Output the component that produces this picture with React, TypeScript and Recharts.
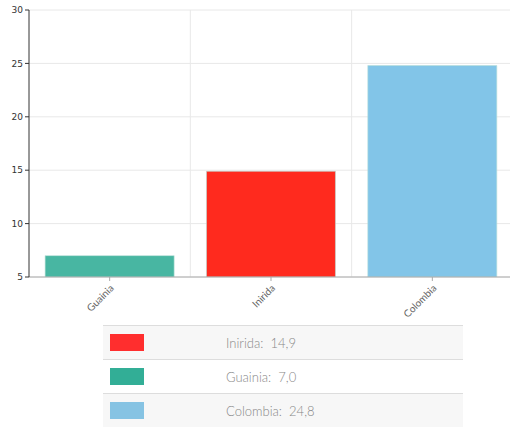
import React from "react"
import { BarChart, Bar, XAxis, YAxis, CartesianGrid, Cell } from "recharts"

const categories = ["Guainia", "Inirida", "Colombia"]
const values = [7.0, 14.9, 24.8]
const colors = ["#48b6a2", "#ff2a1e", "#82c5e8"]
const yTicks = [5, 10, 15, 20, 25, 30]

const legendOrder = ["Inirida", "Guainia", "Colombia"]
const legendLabels = ["14,9", "7,0", "24,8"]
const legendColors = ["#ff2e2e", "#32ae96", "#86c3e3"]

const data = categories.map((name, i) => ({ name, value: values[i] }))

const RotatedTick = (props: any) => {
  const { x, y, payload } = props
  return (
    <g transform={`translate(${x + 2},${y + 3})`}>
      <text
        transform="rotate(-45)"
        textAnchor="end"
        dy={4}
        fontSize={10}
        fill="#666"
        fontFamily="Lato, sans-serif"
      >
        {payload.value}
      </text>
    </g>
  )
}

export default function App() {
  return (
    <div style={{ position: "absolute", left: 0, top: 0, width: 510, height: 427, background: "#fff", overflow: "hidden" }}>
      <BarChart
        width={513}
        height={320}
        data={data}
        margin={{ top: 10, right: 0, bottom: 0, left: 0 }}
        barCategoryGap="10%"
      >
        <CartesianGrid
          stroke="#e8e8e8"
          verticalCoordinatesGenerator={({ offset }: any) =>
            [1, 2].map((i) => offset.left + (offset.width * i) / categories.length)
          }
        />
        <XAxis
          dataKey="name"
          height={43}
          interval={0}
          tick={<RotatedTick />}
          axisLine={{ stroke: "#aaa" }}
          tickLine={{ stroke: "#aaa" }}
          tickSize={4}
        />
        <YAxis
          width={29}
          domain={[5, 30]}
          ticks={yTicks}
          allowDataOverflow
          axisLine={{ stroke: "#333" }}
          tickLine={{ stroke: "#333" }}
          tickSize={4}
          tick={{ fontSize: 9, fill: "#333", fontFamily: "Verdana, DejaVu Sans, sans-serif" }}
        />
        <Bar dataKey="value" isAnimationActive={false}>
          {data.map((d, i) => (
            <Cell key={d.name} fill={colors[i]} stroke="#b8e0d8" strokeWidth={1} strokeOpacity={0.6} />
          ))}
        </Bar>
      </BarChart>
      <table
        style={{
          position: "absolute",
          left: 103,
          top: 325,
          width: 360,
          borderCollapse: "collapse",
          fontFamily: "Lato, sans-serif",
          fontWeight: 300,
          fontSize: 13,
          color: "#888",
        }}
      >
        <tbody>
          {legendOrder.map((name, i) => (
            <tr
              key={name}
              style={{
                height: 34,
                background: i === 1 ? "#fff" : "#f7f7f7",
                borderTop: "1px solid #ddd",
              }}
            >
              <td style={{ width: 116, padding: "0 0 0 7px" }}>
                <div style={{ width: 34, height: 17, background: legendColors[i] }} />
              </td>
              <td style={{ padding: 0 }}>
                {name}:&nbsp;&nbsp;{legendLabels[i]}
              </td>
            </tr>
          ))}
        </tbody>
      </table>
    </div>
  )
}
